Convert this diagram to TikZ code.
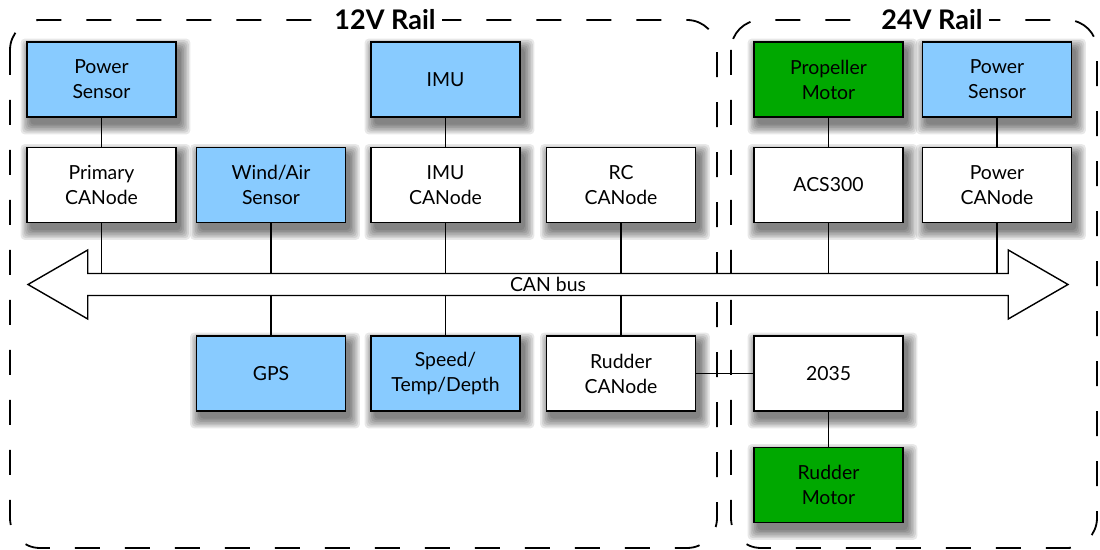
\documentclass[tikz,border=0pt]{standalone}
\usepackage{fontspec}
\setmainfont{Lato}
\usepackage{xcolor}
\usepackage{tikz}
\usetikzlibrary{positioning,shapes.arrows,backgrounds}
\definecolor{snsblue}{HTML}{88CBFF}
\definecolor{motgreen}{HTML}{00A800}

\begin{document}
\begin{tikzpicture}[x=0.5pt, y=-0.5pt, font=\fontsize{9.7}{12.5}\selectfont]
    \tikzstyle{unit}=[draw, line width=0.75pt, fill=white, minimum width=74.5pt,
                      minimum height=37.5pt, inner sep=0pt, align=center]
    \tikzstyle{sensor}=[unit, fill=snsblue]
    \tikzstyle{motor}=[unit, fill=motgreen]
    \tikzstyle{rail}=[line width=0.9pt, dash pattern=on 12.5pt off 12.5pt,
                      rounded corners=15pt]
    \tikzstyle{railtitle}=[fill=white, inner xsep=3pt, inner ysep=1pt,
                           font=\fontsize{13.5}{15}\selectfont\bfseries]
    \tikzstyle{wire}=[line width=0.9pt]
    \tikzstyle{softshade}=[fill=black, opacity=0.09, rounded corners=2pt]

    \useasboundingbox (0,0) rectangle (1100,550);

    % power rails
    \draw[rail] (10,20) rectangle (717,548);
    \draw[rail] (731,20) rectangle (1097,548);
    \node[railtitle] (r12) at (385,20) {12V Rail};
    \node[railtitle] (r24) at (932,20) {24V Rail};

    % CAN bus
    \node[double arrow, draw, line width=0.7pt, fill=white, inner sep=0pt,
          minimum height=520pt, minimum width=34.5pt,
          double arrow head extend=8.5pt, double arrow tip angle=60]
          (bus) at (548,284.5) {CAN bus};

    % upper row
    \node[sensor] (ps1) at (101.5,79.5) {Power\\Sensor};
    \node[unit, below=14.5pt of ps1] (pc) {Primary\\CANode};
    \node[sensor, right=9.5pt of pc] (wind) {Wind/Air\\Sensor};
    \node[unit, right=12pt of wind] (imuc) {IMU\\CANode};
    \node[sensor, above=14.5pt of imuc] (imu) {IMU};
    \node[unit, right=12.5pt of imuc] (rc) {RC\\CANode};
    \node[unit, right=28.5pt of rc] (acs) {ACS300};
    \node[motor, above=14.5pt of acs] (prop) {Propeller\\Motor};
    \node[unit, right=9pt of acs] (pwc) {Power\\CANode};
    \node[sensor, above=14.5pt of pwc] (ps2) {Power\\Sensor};

    % lower row
    \node[sensor, below=56pt of wind] (gps) {GPS};
    \node[sensor, below=56pt of imuc] (std) {Speed/\\Temp/Depth};
    \node[unit, below=56pt of rc] (rud) {Rudder\\CANode};
    \node[unit, below=56pt of acs] (drv) {2035};
    \node[motor, below=17.5pt of drv] (rm) {Rudder\\Motor};

    % soft shadows behind the boxes
    \begin{pgfonlayer}{background}
    \foreach \n in {ps1,pc,wind,imuc,imu,rc,acs,prop,pwc,ps2,gps,std,rud,drv,rm}
      \foreach \r in {0,0.8,...,5.6}
        \fill[softshade] ([shift={(2pt-\r pt,-3.5pt-\r pt)}]\n.south west)
                         rectangle ([shift={(2pt+\r pt,-3.5pt+\r pt)}]\n.north east);
    \end{pgfonlayer}

    % links
    \draw[wire] (ps1) -- (pc);
    \draw[wire] (imu) -- (imuc);
    \draw[wire] (prop) -- (acs);
    \draw[wire] (ps2) -- (pwc);
    \foreach \n in {pc,wind,imuc,rc,acs,pwc}
        \draw[wire] (\n.south) -- (\n.south |- bus.north);
    \foreach \n in {gps,std,rud}
        \draw[wire] (\n.north) -- (\n.north |- bus.south);
    \draw[wire] (rud) -- (drv);
    \draw[wire] (drv) -- (rm);
\end{tikzpicture}
\end{document}
